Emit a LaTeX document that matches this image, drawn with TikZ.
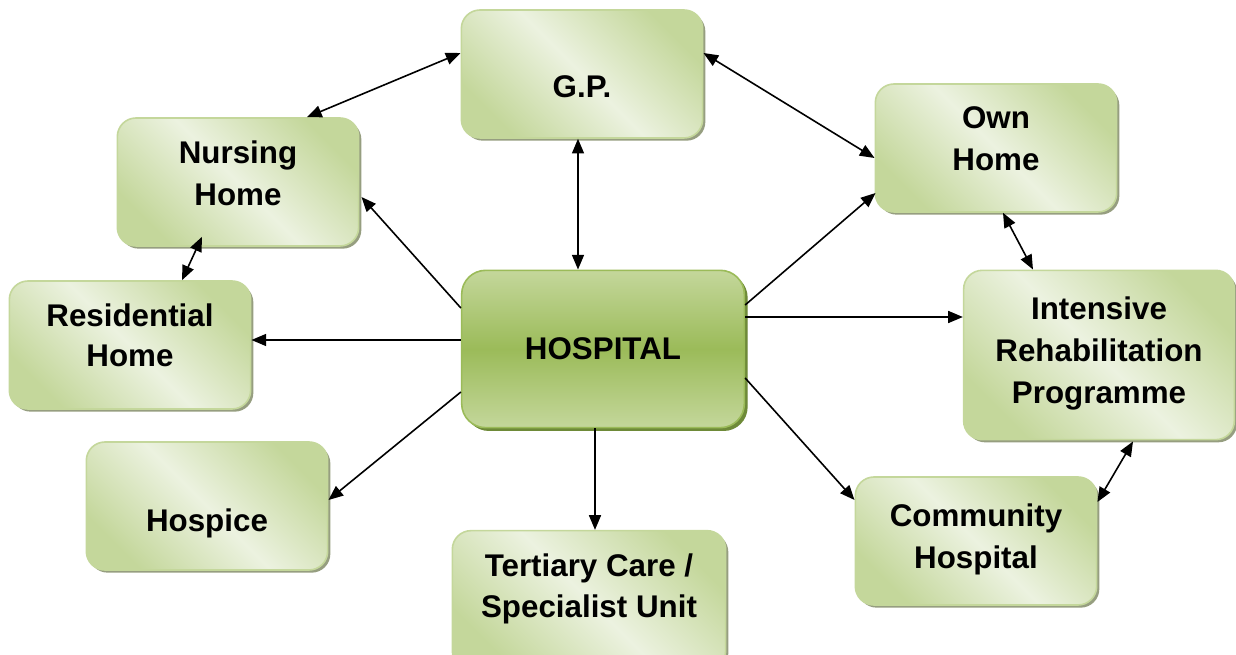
\documentclass[tikz,border=0pt]{standalone}
\usepackage{fontspec}
\setmainfont{Liberation Sans}
\usepackage{tikz}
\usetikzlibrary{
	arrows.meta,
	calc,
	shadows
}
\definecolor{PaleGreen}{RGB}{236,242,224}
\definecolor{SoftGreen}{RGB}{196,215,155}
\definecolor{MidGreen}{RGB}{155,187,89}
\definecolor{DeepGreen}{RGB}{110,138,56}
\definecolor{ShadowGray}{RGB}{150,158,128}
% text lines of a box, lifted a little above its centre
\newcommand{\boxlines}[2]{\raisebox{#1}[\height][\depth]{\begin{tabular}{@{}c@{}}#2\end{tabular}}}

\begin{document}
\begin{tikzpicture}[x=0.75pt, y=-0.75pt,
	box/.style={draw=SoftGreen, line width=1.2pt, rounded corners=14pt, inner sep=0pt,
		top color=SoftGreen, bottom color=SoftGreen, middle color=PaleGreen, shading angle=-45,
		drop shadow={shadow xshift=2pt, shadow yshift=-2pt, fill=ShadowGray, opacity=1},
		align=center, font=\bfseries\fontsize{23.5}{31.5}\selectfont,
		minimum width=181pt, minimum height=96pt},
	hub/.style={box, draw=MidGreen, rounded corners=18pt,
		top color=SoftGreen, bottom color=SoftGreen, middle color=MidGreen, shading angle=0,
		drop shadow={shadow xshift=2.5pt, shadow yshift=-2.5pt, fill=DeepGreen, opacity=1},
		minimum width=212pt, minimum height=118pt},
	link/.style={-{Triangle[length=11pt,width=9pt]}, line width=1.2pt},
	twoway/.style={{Triangle[length=11pt,width=9pt]}-{Triangle[length=11pt,width=9pt]}, line width=1.2pt}
	]
	\useasboundingbox (0,0) rectangle (1236,655);
	
	% boxes
	\node[hub] (hosp) at (603,349) {HOSPITAL};
	\node[box, text height=35pt, text depth=0pt] (gp) at (582,74) {G.P.};
	\node[box] (nh) at (238,182) {\boxlines{4.5pt}{Nursing\\Home}};
	\node[box] (rh) at (130,345) {\boxlines{5.5pt}{Residential\\[-1.5pt]Home}};
	\node[box, text height=39pt, text depth=0pt] (hc) at (207,506) {Hospice};
	\node[box, minimum width=205pt, minimum height=104pt] (tc) at (589,600) {\boxlines{8.5pt}{Tertiary Care /\\[-0.8pt]Specialist Unit}};
	\node[box] (oh) at (996,148) {\boxlines{5pt}{Own\\Home}};
	\node[box, minimum width=203pt, minimum height=127pt] (irp) at (1099,355) {\boxlines{1.5pt}{Intensive\\Rehabilitation\\Programme}};
	\node[box] (ch) at (976,541) {\boxlines{1.5pt}{Community\\Hospital}};
	
	% two-way links
	\draw[twoway] ($(gp.west)+(0,-21)$) -- ($(nh.north)+(69,0)$);
	\draw[twoway] ($(gp.south)+(-4,0)$) -- ($(hosp.north)+(-25,0)$);
	\draw[twoway] ($(gp.east)+(0,-21)$) -- ($(oh.west)+(0,10)$);
	\draw[twoway] ($(nh.south)+(-36,-10)$) -- ($(rh.north)+(52,0)$);
	\draw[twoway] ($(oh.south)+(7,0)$) -- ($(irp.north)+(-66,0)$);
	\draw[twoway] ($(irp.south)+(34,1)$) -- ($(ch.east)+(0,-39)$);
	
	% out of hospital
	\draw[link] ($(hosp.west)+(0,-41)$) -- ($(nh.east)+(2,15)$);
	\draw[link] ($(hosp.west)+(0,-9)$) -- ($(rh.east)+(0,-5)$);
	\draw[link] ($(hosp.west)+(0,43)$) -- ($(hc.east)+(0,-6)$);
	\draw[link] ($(hosp.south)+(-8,0)$) -- ($(tc.north)+(6,0)$);
	\draw[link] ($(hosp.east)+(0,-44)$) -- ($(oh.west)+(1,45)$);
	\draw[link] ($(hosp.east)+(0,-32)$) -- ($(irp.west)+(0,-38)$);
	\draw[link] ($(hosp.east)+(0,29)$) -- ($(ch.west)+(0,-41)$);
\end{tikzpicture}
\end{document}
